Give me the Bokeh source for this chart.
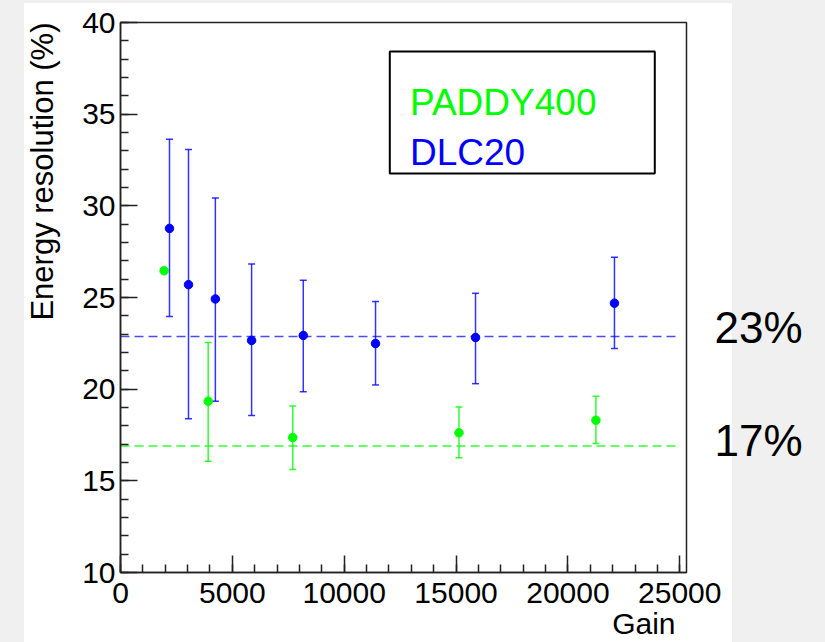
from bokeh.plotting import figure
from bokeh.models import (Range1d, SingleIntervalTicker, FixedTicker, ColumnDataSource, Whisker,
                          TeeHead, Label, BoxAnnotation, LinearAxis, Title)
from bokeh.embed import file_html
from bokeh.resources import INLINE

# ---------------- data ----------------
dlc_gain = [2190, 3040, 4240, 5860, 8170, 11400, 15870, 22080]
dlc_res = [28.77, 25.70, 24.92, 22.66, 22.93, 22.49, 22.82, 24.69]
dlc_upper = [33.63, 33.07, 30.43, 26.83, 25.94, 24.78, 25.23, 27.19]
dlc_lower = [23.96, 18.38, 19.34, 18.57, 19.86, 20.23, 20.30, 22.22]

paddy_gain = [1950, 3920, 7700, 15130, 21250]
paddy_res = [26.46, 19.34, 17.36, 17.62, 18.30]
paddy_upper = [26.46, 22.55, 19.08, 19.03, 19.61]
paddy_lower = [26.46, 16.07, 15.62, 16.26, 17.03]

dlc_mean = 22.87
paddy_mean = 16.90
mean_line_gain = [0, 24850]

series_names = ["PADDY400", "DLC20"]
mean_labels = ["23%", "17%"]
x_title = "Gain"
y_title = "Energy resolution (%)"

# ---------------- layout ----------------
W, H = 825, 642
BL, BR, BT, BB = 120, 139, 22, 69
X0, X1 = 0, 25300
Y0, Y1 = 10, 40
FW = W - BL - BR
FH = H - BT - BB


def dx(px):
    return X0 + (px - BL) / FW * (X1 - X0)


def dy(py):
    return Y0 + (H - BB - py) / FH * (Y1 - Y0)


BLUE = "#0000ff"
GREEN = "#00ff00"
FONT = "Liberation Sans"
GREY = "#f0f0f0"

p = figure(width=W, height=H, output_backend="svg", toolbar_location=None,
           x_range=Range1d(X0, X1), y_range=Range1d(Y0, Y1),
           min_border_left=BL, min_border_right=BR, min_border_top=BT, min_border_bottom=BB)
p.background_fill_color = "white"
p.border_fill_color = None
p.styles = {
    "background": ("linear-gradient(to bottom, %s 3px, rgba(255,255,255,0) 3px), "
                   "linear-gradient(to right, %s 24px, #ffffff 24px, #ffffff 732px, %s 732px)")
    % (GREY, GREY, GREY)
}
p.outline_line_color = "#222222"
p.outline_line_width = 1.5
p.xgrid.visible = False
p.ygrid.visible = False

p.xaxis.ticker = SingleIntervalTicker(interval=5000, num_minor_ticks=5)
p.yaxis.ticker = SingleIntervalTicker(interval=5, num_minor_ticks=5)
for ax in (p.xaxis[0], p.yaxis[0]):
    ax.major_tick_in = 17
    ax.major_tick_out = 0
    ax.minor_tick_in = 8
    ax.minor_tick_out = 0
    ax.axis_line_color = "#222222"
    ax.axis_line_width = 1.5
    ax.major_tick_line_color = "#222222"
    ax.minor_tick_line_color = "#222222"
    ax.major_tick_line_width = 1.5
    ax.minor_tick_line_width = 1.5
    ax.major_label_text_font = FONT
    ax.major_label_text_font_size = "30px"
    ax.major_label_text_color = "black"
p.xaxis.major_label_standoff = 10
p.yaxis.major_label_standoff = 5

# axis titles, placed at the far end of each axis as in the original
p.add_layout(Title(text=x_title, align="right", offset=11, standoff=2, vertical_align="top",
                   text_font=FONT, text_font_size="30px", text_font_style="normal",
                   text_color="black"), "below")
p.add_layout(Title(text=y_title, align="right", offset=0, standoff=40, vertical_align="bottom",
                   text_font=FONT, text_font_size="31px", text_font_style="normal",
                   text_color="black"), "left")

# right axis carrying the two mean annotations, in pixel coordinates of the frame
p.extra_y_ranges = {"px": Range1d(H - BB, BT)}
right_ax = LinearAxis(y_range_name="px", ticker=FixedTicker(ticks=[328, 441]),
                      major_label_overrides={328: mean_labels[0], 441: mean_labels[1]},
                      axis_line_color=None, major_tick_line_color=None,
                      minor_tick_line_color=None, major_label_standoff=22,
                      major_label_text_font=FONT, major_label_text_font_size="44px",
                      major_label_text_color="black")
p.add_layout(right_ax, "right")

# mean lines
p.line(mean_line_gain, [dlc_mean, dlc_mean], line_color=BLUE, line_alpha=0.7,
       line_width=1.5, line_dash="9 5")
p.line(mean_line_gain, [paddy_mean, paddy_mean], line_color=GREEN, line_alpha=0.8,
       line_width=1.5, line_dash="9 5")


# error bars
def add_bars(xs, lo, hi, color, alpha):
    keep = [i for i in range(len(xs)) if hi[i] > lo[i]]
    src = ColumnDataSource(dict(x=[xs[i] for i in keep], lo=[lo[i] for i in keep],
                                hi=[hi[i] for i in keep]))
    w = Whisker(source=src, base="x", upper="hi", lower="lo", dimension="height",
                line_color=color, line_alpha=alpha, line_width=1.5,
                upper_head=TeeHead(size=7, line_color=color, line_alpha=alpha, line_width=1.5),
                lower_head=TeeHead(size=7, line_color=color, line_alpha=alpha, line_width=1.5))
    p.add_layout(w)


add_bars(dlc_gain, dlc_lower, dlc_upper, BLUE, 0.8)
add_bars(paddy_gain, paddy_lower, paddy_upper, GREEN, 0.8)

p.scatter(paddy_gain, paddy_res, size=8.5, color=GREEN)
p.scatter(dlc_gain, dlc_res, size=8.5, color=BLUE)

# legend box
p.add_layout(BoxAnnotation(left=dx(389.3), right=dx(654.3), top=dy(51), bottom=dy(173.3),
                           fill_color="white", fill_alpha=1.0, line_color="black",
                           line_alpha=1.0, line_width=2))
p.add_layout(Label(x=dx(409.5), y=dy(101.7), text=series_names[0], text_color=GREEN,
                   text_font=FONT, text_font_size="37px", text_baseline="alphabetic"))
p.add_layout(Label(x=dx(409.5), y=dy(152.7), text=series_names[1], text_color=BLUE,
                   text_font=FONT, text_font_size="37px", text_baseline="alphabetic"))

open("out.html", "w").write(file_html(p, INLINE))
